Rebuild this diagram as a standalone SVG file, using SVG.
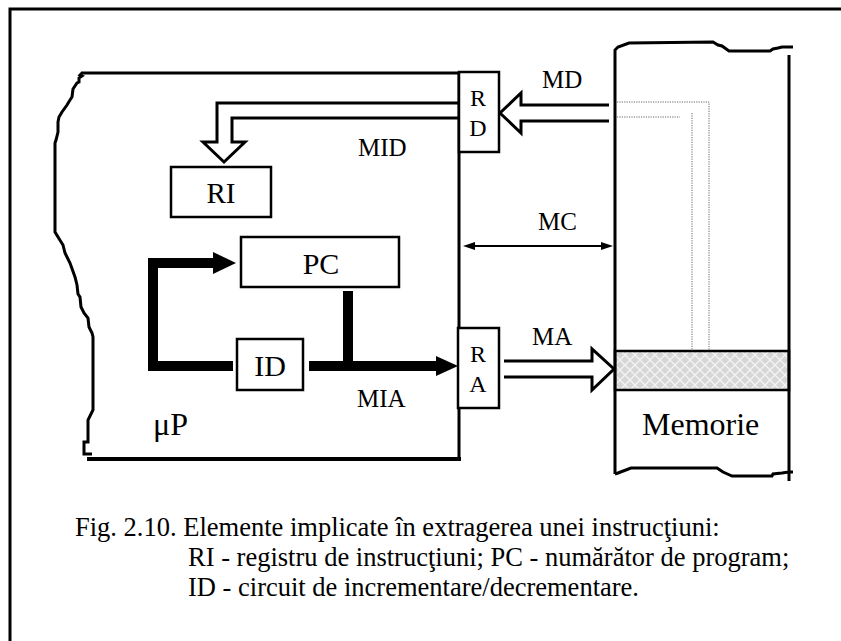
<svg xmlns="http://www.w3.org/2000/svg" width="841" height="641" viewBox="0 0 841 641">
<style>
text{font-family:"Liberation Serif","Times New Roman",serif;fill:#000}
.ln{fill:none;stroke:#000;stroke-width:3;stroke-linejoin:miter}
.box{fill:#fff;stroke:#000;stroke-width:2.5}
.thick{fill:none;stroke:#000;stroke-width:10;stroke-linejoin:miter}
.dot{fill:none;stroke:#666;stroke-width:1;stroke-dasharray:1.2 1.2}
.lbl{font-size:25px}
.big{font-size:32px}
.reg{font-size:30px}
.cap{font-size:26.5px}
</style>
<defs>
<pattern id="hatch" width="10" height="10" patternUnits="userSpaceOnUse">
<rect width="10" height="10" fill="#d6d6d6"/>
<path d="M0,0 L10,10 M10,0 L0,10" stroke="#f4f4f4" stroke-width="1.3"/>
</pattern>
<marker id="mc" markerWidth="12" markerHeight="8" refX="11" refY="4" orient="auto-start-reverse" markerUnits="userSpaceOnUse">
<path d="M0,0 L12,4 L0,8 Z" fill="#000"/>
</marker>
</defs>
<rect width="841" height="641" fill="#fff"/>
<path d="M10,645 V9 H845" fill="none" stroke="#000" stroke-width="3"/>

<g id="microprocessor">
<path class="ln" d="M81,73 H459 V459"/>
<path class="ln" d="M82,73 L80,75 L82,76 L79,78 L79,82 L77,83 L73,89 L72,97 L70,100 L67,105 L62,112 L59,117 L58,122 L58,132 L56,140 L55,143 L55,232 L58,237 L63,245 L65,253 L70,263 L75,277 L77,285 L78,294 L80,297 L81,307 L84,313 L88,318 L89,327 L92,333 L93,337 L93,410 L90,416 L88,420 L88,442 L84,442 L84,454 L92,454"/>
<path d="M87,459 H461" fill="none" stroke="#000" stroke-width="4"/>
<text class="big" x="153" y="435">μP</text>
</g>

<g id="memory">
<rect x="615" y="351" width="174" height="39" fill="url(#hatch)" stroke="#000" stroke-width="2.5"/>
<path class="ln" d="M615,474 V50 L618,47 L629,43 L713,42 L718,45 L722,46 L729,51 L770,51 L773,49 L778,48 L782,47 L793,47"/>
<path class="ln" d="M789,55 V481"/>
<path class="ln" d="M615,474 L618,473 L631,468 L717,468 L723,472 L732,476 L772,476 L773,474 L782,473 L789,472 L793,472"/>
<path class="dot" d="M617,102 H709 V351"/>
<path class="dot" d="M617,117 H680 M692,113 V351"/>
<text class="big" x="642" y="435">Memorie</text>
</g>

<g id="RD">
<rect class="box" x="459" y="72" width="40" height="80"/>
<text x="478" y="106" text-anchor="middle" style="font-size:24px">R</text>
<text x="478" y="136" text-anchor="middle" style="font-size:24px">D</text>
</g>

<g id="RA">
<rect class="box" x="458" y="328" width="41" height="80"/>
<text x="478" y="362" text-anchor="middle" style="font-size:24px">R</text>
<text x="478" y="392" text-anchor="middle" style="font-size:24px">A</text>
</g>

<g id="RI">
<rect class="box" x="171" y="167" width="100" height="50"/>
<text x="221" y="203" text-anchor="middle" style="font-size:29px">RI</text>
</g>

<g id="PC">
<rect class="box" x="241" y="237" width="158" height="50"/>
<text class="reg" x="321" y="274" text-anchor="middle">PC</text>
</g>

<g id="ID">
<rect class="box" x="237" y="339" width="66" height="51"/>
<text class="reg" x="270" y="376" text-anchor="middle">ID</text>
</g>

<g id="connectors">
<path class="ln" d="M459,103 H217 V142 H203 L224,162 L245,142 H232 V118 H459"/>
<path class="ln" d="M609,105 H521 V93 L500,113 L521,133 V121 H609"/>
<path class="ln" d="M504,361 H592 V349 L614,369 L592,390 V377 H504"/>
<path d="M475,246 H601" fill="none" stroke="#000" stroke-width="2"/>
<path d="M463,246 L475,242 L475,250 Z M613,246 L601,242 L601,250 Z" fill="#000"/>
<path class="thick" d="M233,366 H153 V263 H214"/>
<polygon points="213,252 236,263 213,274" fill="#000"/>
<path class="thick" d="M348,291 V366"/>
<path class="thick" d="M309,366 H437"/>
<polygon points="436,356 458,366 436,376" fill="#000"/>
<text class="lbl" x="358" y="156">MID</text>
<text class="lbl" x="542" y="88">MD</text>
<text class="lbl" x="538" y="230">MC</text>
<text class="lbl" x="532" y="345">MA</text>
<text class="lbl" x="357" y="407">MIA</text>
</g>

<g id="caption">
<text class="cap" x="75" y="536">Fig. 2.10. Elemente implicate în extragerea unei instrucţiuni:</text>
<text class="cap" x="188" y="566">RI - registru de instrucţiuni; PC - numărător de program;</text>
<text class="cap" x="188" y="596">ID - circuit de incrementare/decrementare.</text>
</g>
</svg>
